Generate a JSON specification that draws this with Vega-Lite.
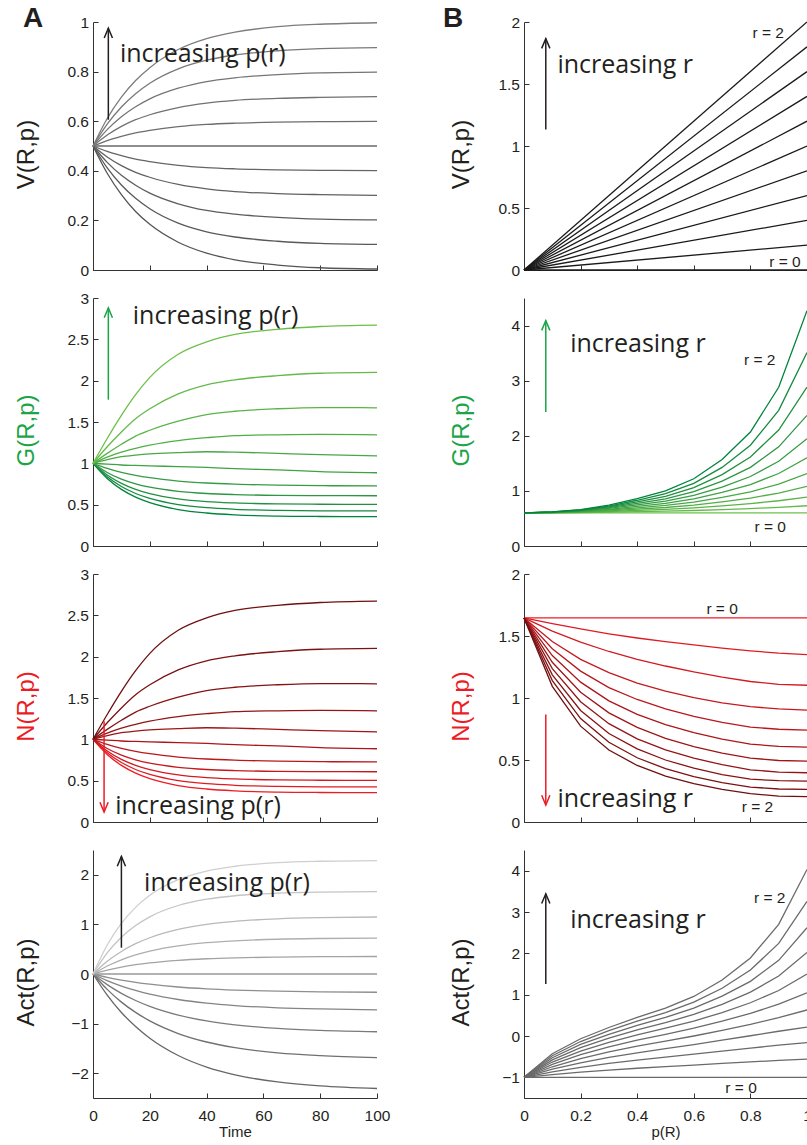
{
"$schema":"https://vega.github.io/schema/vega-lite/v6.json",
"autosize":{"type":"none"},
"padding":{"left":93,"top":22,"right":714,"bottom":1123},
"background":"white",
"datasets":{
"vl":[
{"k":0,"x":0,"y":0.5},{"k":0,"x":5,"y":0.39},{"k":0,"x":10,"y":0.304},{"k":0,"x":15,"y":0.236},{"k":0,"x":20,"y":0.184},{"k":0,"x":30,"y":0.112},{"k":0,"x":40,"y":0.068},{"k":0,"x":50,"y":0.041},{"k":0,"x":65,"y":0.02},{"k":0,"x":80,"y":0.009},{"k":0,"x":100,"y":0.004},
{"k":1,"x":0,"y":0.5},{"k":1,"x":5,"y":0.412},{"k":1,"x":10,"y":0.343},{"k":1,"x":15,"y":0.289},{"k":1,"x":20,"y":0.247},{"k":1,"x":30,"y":0.189},{"k":1,"x":40,"y":0.154},{"k":1,"x":50,"y":0.133},{"k":1,"x":65,"y":0.116},{"k":1,"x":80,"y":0.107},{"k":1,"x":100,"y":0.103},
{"k":2,"x":0,"y":0.5},{"k":2,"x":5,"y":0.434},{"k":2,"x":10,"y":0.382},{"k":2,"x":15,"y":0.342},{"k":2,"x":20,"y":0.31},{"k":2,"x":30,"y":0.267},{"k":2,"x":40,"y":0.24},{"k":2,"x":50,"y":0.225},{"k":2,"x":65,"y":0.212},{"k":2,"x":80,"y":0.205},{"k":2,"x":100,"y":0.202},
{"k":3,"x":0,"y":0.5},{"k":3,"x":5,"y":0.456},{"k":3,"x":10,"y":0.421},{"k":3,"x":15,"y":0.394},{"k":3,"x":20,"y":0.374},{"k":3,"x":30,"y":0.345},{"k":3,"x":40,"y":0.327},{"k":3,"x":50,"y":0.316},{"k":3,"x":65,"y":0.308},{"k":3,"x":80,"y":0.304},{"k":3,"x":100,"y":0.301},
{"k":4,"x":0,"y":0.5},{"k":4,"x":5,"y":0.478},{"k":4,"x":10,"y":0.461},{"k":4,"x":15,"y":0.447},{"k":4,"x":20,"y":0.437},{"k":4,"x":30,"y":0.422},{"k":4,"x":40,"y":0.413},{"k":4,"x":50,"y":0.408},{"k":4,"x":65,"y":0.404},{"k":4,"x":80,"y":0.402},{"k":4,"x":100,"y":0.401},
{"k":5,"x":0,"y":0.5},{"k":5,"x":100,"y":0.5},
{"k":6,"x":0,"y":0.5},{"k":6,"x":5,"y":0.522},{"k":6,"x":10,"y":0.539},{"k":6,"x":15,"y":0.553},{"k":6,"x":20,"y":0.563},{"k":6,"x":30,"y":0.578},{"k":6,"x":40,"y":0.587},{"k":6,"x":50,"y":0.592},{"k":6,"x":65,"y":0.596},{"k":6,"x":80,"y":0.598},{"k":6,"x":100,"y":0.599},
{"k":7,"x":0,"y":0.5},{"k":7,"x":5,"y":0.544},{"k":7,"x":10,"y":0.579},{"k":7,"x":15,"y":0.606},{"k":7,"x":20,"y":0.626},{"k":7,"x":30,"y":0.655},{"k":7,"x":40,"y":0.673},{"k":7,"x":50,"y":0.684},{"k":7,"x":65,"y":0.692},{"k":7,"x":80,"y":0.696},{"k":7,"x":100,"y":0.699},
{"k":8,"x":0,"y":0.5},{"k":8,"x":5,"y":0.566},{"k":8,"x":10,"y":0.618},{"k":8,"x":15,"y":0.658},{"k":8,"x":20,"y":0.69},{"k":8,"x":30,"y":0.733},{"k":8,"x":40,"y":0.76},{"k":8,"x":50,"y":0.775},{"k":8,"x":65,"y":0.788},{"k":8,"x":80,"y":0.795},{"k":8,"x":100,"y":0.798},
{"k":9,"x":0,"y":0.5},{"k":9,"x":5,"y":0.588},{"k":9,"x":10,"y":0.657},{"k":9,"x":15,"y":0.711},{"k":9,"x":20,"y":0.753},{"k":9,"x":30,"y":0.811},{"k":9,"x":40,"y":0.846},{"k":9,"x":50,"y":0.867},{"k":9,"x":65,"y":0.884},{"k":9,"x":80,"y":0.893},{"k":9,"x":100,"y":0.897},
{"k":10,"x":0,"y":0.5},{"k":10,"x":5,"y":0.611},{"k":10,"x":10,"y":0.697},{"k":10,"x":15,"y":0.764},{"k":10,"x":20,"y":0.816},{"k":10,"x":30,"y":0.889},{"k":10,"x":40,"y":0.933},{"k":10,"x":50,"y":0.959},{"k":10,"x":65,"y":0.981},{"k":10,"x":80,"y":0.991},{"k":10,"x":100,"y":0.997}
],
"gnl":[
{"k":0,"x":0,"y":1},{"k":0,"x":5,"y":0.817},{"k":0,"x":10,"y":0.685},{"k":0,"x":15,"y":0.592},{"k":0,"x":20,"y":0.525},{"k":0,"x":30,"y":0.441},{"k":0,"x":40,"y":0.399},{"k":0,"x":50,"y":0.377},{"k":0,"x":65,"y":0.362},{"k":0,"x":80,"y":0.357},{"k":0,"x":100,"y":0.355},
{"k":1,"x":0,"y":1},{"k":1,"x":5,"y":0.837},{"k":1,"x":10,"y":0.719},{"k":1,"x":15,"y":0.635},{"k":1,"x":20,"y":0.575},{"k":1,"x":30,"y":0.501},{"k":1,"x":40,"y":0.463},{"k":1,"x":50,"y":0.444},{"k":1,"x":65,"y":0.431},{"k":1,"x":80,"y":0.426},{"k":1,"x":100,"y":0.424},
{"k":2,"x":0,"y":1},{"k":2,"x":5,"y":0.859},{"k":2,"x":10,"y":0.758},{"k":2,"x":15,"y":0.686},{"k":2,"x":20,"y":0.634},{"k":2,"x":30,"y":0.57},{"k":2,"x":40,"y":0.537},{"k":2,"x":50,"y":0.521},{"k":2,"x":65,"y":0.509},{"k":2,"x":80,"y":0.505},{"k":2,"x":100,"y":0.503},
{"k":3,"x":0,"y":1},{"k":3,"x":5,"y":0.889},{"k":3,"x":10,"y":0.809},{"k":3,"x":15,"y":0.752},{"k":3,"x":20,"y":0.711},{"k":3,"x":30,"y":0.661},{"k":3,"x":40,"y":0.635},{"k":3,"x":50,"y":0.622},{"k":3,"x":65,"y":0.613},{"k":3,"x":80,"y":0.61},{"k":3,"x":100,"y":0.608},
{"k":4,"x":0,"y":1},{"k":4,"x":5,"y":0.939},{"k":4,"x":10,"y":0.892},{"k":4,"x":15,"y":0.855},{"k":4,"x":20,"y":0.826},{"k":4,"x":30,"y":0.786},{"k":4,"x":40,"y":0.762},{"k":4,"x":50,"y":0.748},{"k":4,"x":65,"y":0.736},{"k":4,"x":80,"y":0.73},{"k":4,"x":100,"y":0.727},
{"k":5,"x":0,"y":1},{"k":5,"x":5,"y":0.99},{"k":5,"x":10,"y":0.98},{"k":5,"x":15,"y":0.975},{"k":5,"x":20,"y":0.97},{"k":5,"x":30,"y":0.96},{"k":5,"x":40,"y":0.95},{"k":5,"x":50,"y":0.935},{"k":5,"x":65,"y":0.92},{"k":5,"x":80,"y":0.9},{"k":5,"x":100,"y":0.886},
{"k":6,"x":0,"y":1},{"k":6,"x":5,"y":1.045},{"k":6,"x":10,"y":1.08},{"k":6,"x":15,"y":1.1},{"k":6,"x":20,"y":1.115},{"k":6,"x":30,"y":1.13},{"k":6,"x":40,"y":1.14},{"k":6,"x":50,"y":1.135},{"k":6,"x":65,"y":1.12},{"k":6,"x":80,"y":1.105},{"k":6,"x":100,"y":1.09},
{"k":7,"x":0,"y":1},{"k":7,"x":5,"y":1.076},{"k":7,"x":10,"y":1.136},{"k":7,"x":15,"y":1.182},{"k":7,"x":20,"y":1.22},{"k":7,"x":30,"y":1.275},{"k":7,"x":40,"y":1.31},{"k":7,"x":50,"y":1.335},{"k":7,"x":65,"y":1.345},{"k":7,"x":80,"y":1.35},{"k":7,"x":100,"y":1.345},
{"k":8,"x":0,"y":1},{"k":8,"x":5,"y":1.12},{"k":8,"x":10,"y":1.23},{"k":8,"x":15,"y":1.33},{"k":8,"x":20,"y":1.4},{"k":8,"x":30,"y":1.51},{"k":8,"x":40,"y":1.59},{"k":8,"x":50,"y":1.63},{"k":8,"x":65,"y":1.66},{"k":8,"x":80,"y":1.675},{"k":8,"x":100,"y":1.671},
{"k":9,"x":0,"y":1},{"k":9,"x":5,"y":1.2},{"k":9,"x":10,"y":1.38},{"k":9,"x":15,"y":1.54},{"k":9,"x":20,"y":1.66},{"k":9,"x":30,"y":1.84},{"k":9,"x":40,"y":1.95},{"k":9,"x":50,"y":2.01},{"k":9,"x":65,"y":2.06},{"k":9,"x":80,"y":2.09},{"k":9,"x":100,"y":2.1},
{"k":10,"x":0,"y":1},{"k":10,"x":5,"y":1.3},{"k":10,"x":10,"y":1.58},{"k":10,"x":15,"y":1.83},{"k":10,"x":20,"y":2.04},{"k":10,"x":30,"y":2.32},{"k":10,"x":40,"y":2.47},{"k":10,"x":50,"y":2.56},{"k":10,"x":65,"y":2.62},{"k":10,"x":80,"y":2.655},{"k":10,"x":100,"y":2.672}
],
"al":[
{"k":0,"x":0,"y":0},{"k":0,"x":5,"y":-0.425},{"k":0,"x":10,"y":-0.775},{"k":0,"x":15,"y":-1.059},{"k":0,"x":20,"y":-1.295},{"k":0,"x":30,"y":-1.643},{"k":0,"x":40,"y":-1.876},{"k":0,"x":50,"y":-2.033},{"k":0,"x":65,"y":-2.176},{"k":0,"x":80,"y":-2.255},{"k":0,"x":100,"y":-2.308},
{"k":1,"x":0,"y":0},{"k":1,"x":5,"y":-0.31},{"k":1,"x":10,"y":-0.567},{"k":1,"x":15,"y":-0.774},{"k":1,"x":20,"y":-0.946},{"k":1,"x":30,"y":-1.2},{"k":1,"x":40,"y":-1.371},{"k":1,"x":50,"y":-1.485},{"k":1,"x":65,"y":-1.59},{"k":1,"x":80,"y":-1.647},{"k":1,"x":100,"y":-1.686},
{"k":2,"x":0,"y":0},{"k":2,"x":5,"y":-0.214},{"k":2,"x":10,"y":-0.391},{"k":2,"x":15,"y":-0.534},{"k":2,"x":20,"y":-0.653},{"k":2,"x":30,"y":-0.829},{"k":2,"x":40,"y":-0.946},{"k":2,"x":50,"y":-1.025},{"k":2,"x":65,"y":-1.098},{"k":2,"x":80,"y":-1.137},{"k":2,"x":100,"y":-1.164},
{"k":3,"x":0,"y":0},{"k":3,"x":5,"y":-0.133},{"k":3,"x":10,"y":-0.243},{"k":3,"x":15,"y":-0.331},{"k":3,"x":20,"y":-0.405},{"k":3,"x":30,"y":-0.514},{"k":3,"x":40,"y":-0.587},{"k":3,"x":50,"y":-0.636},{"k":3,"x":65,"y":-0.681},{"k":3,"x":80,"y":-0.705},{"k":3,"x":100,"y":-0.722},
{"k":4,"x":0,"y":0},{"k":4,"x":5,"y":-0.068},{"k":4,"x":10,"y":-0.124},{"k":4,"x":15,"y":-0.169},{"k":4,"x":20,"y":-0.206},{"k":4,"x":30,"y":-0.262},{"k":4,"x":40,"y":-0.299},{"k":4,"x":50,"y":-0.324},{"k":4,"x":65,"y":-0.347},{"k":4,"x":80,"y":-0.36},{"k":4,"x":100,"y":-0.368},
{"k":5,"x":0,"y":0},{"k":5,"x":100,"y":0},
{"k":6,"x":0,"y":0},{"k":6,"x":5,"y":0.078},{"k":6,"x":10,"y":0.14},{"k":6,"x":15,"y":0.187},{"k":6,"x":20,"y":0.224},{"k":6,"x":30,"y":0.276},{"k":6,"x":40,"y":0.307},{"k":6,"x":50,"y":0.326},{"k":6,"x":65,"y":0.341},{"k":6,"x":80,"y":0.349},{"k":6,"x":100,"y":0.353},
{"k":7,"x":0,"y":0},{"k":7,"x":5,"y":0.161},{"k":7,"x":10,"y":0.286},{"k":7,"x":15,"y":0.385},{"k":7,"x":20,"y":0.461},{"k":7,"x":30,"y":0.566},{"k":7,"x":40,"y":0.631},{"k":7,"x":50,"y":0.669},{"k":7,"x":65,"y":0.701},{"k":7,"x":80,"y":0.716},{"k":7,"x":100,"y":0.724},
{"k":8,"x":0,"y":0},{"k":8,"x":5,"y":0.256},{"k":8,"x":10,"y":0.455},{"k":8,"x":15,"y":0.611},{"k":8,"x":20,"y":0.731},{"k":8,"x":30,"y":0.899},{"k":8,"x":40,"y":1.001},{"k":8,"x":50,"y":1.062},{"k":8,"x":65,"y":1.112},{"k":8,"x":80,"y":1.136},{"k":8,"x":100,"y":1.149},
{"k":9,"x":0,"y":0},{"k":9,"x":5,"y":0.425},{"k":9,"x":10,"y":0.741},{"k":9,"x":15,"y":0.976},{"k":9,"x":20,"y":1.153},{"k":9,"x":30,"y":1.381},{"k":9,"x":40,"y":1.508},{"k":9,"x":50,"y":1.578},{"k":9,"x":65,"y":1.629},{"k":9,"x":80,"y":1.651},{"k":9,"x":100,"y":1.661},
{"k":10,"x":0,"y":0},{"k":10,"x":5,"y":0.585},{"k":10,"x":10,"y":1.021},{"k":10,"x":15,"y":1.344},{"k":10,"x":20,"y":1.587},{"k":10,"x":30,"y":1.902},{"k":10,"x":40,"y":2.076},{"k":10,"x":50,"y":2.172},{"k":10,"x":65,"y":2.244},{"k":10,"x":80,"y":2.273},{"k":10,"x":100,"y":2.287}
],
"vr":[
{"k":0,"x":0,"y":0},{"k":0,"x":1,"y":0},{"k":1,"x":0,"y":0},{"k":1,"x":1,"y":0.2},{"k":2,"x":0,"y":0},{"k":2,"x":1,"y":0.4},{"k":3,"x":0,"y":0},{"k":3,"x":1,"y":0.6},{"k":4,"x":0,"y":0},{"k":4,"x":1,"y":0.8},{"k":5,"x":0,"y":0},{"k":5,"x":1,"y":1.0},{"k":6,"x":0,"y":0},{"k":6,"x":1,"y":1.2},{"k":7,"x":0,"y":0},{"k":7,"x":1,"y":1.4},{"k":8,"x":0,"y":0},{"k":8,"x":1,"y":1.6},{"k":9,"x":0,"y":0},{"k":9,"x":1,"y":1.8},{"k":10,"x":0,"y":0},{"k":10,"x":1,"y":2.0}
],
"gr":[
{"k":0,"x":0,"y":0.6},{"k":0,"x":1,"y":0.6},
{"k":1,"x":0,"y":0.6},{"k":1,"x":0.1,"y":0.602},{"k":1,"x":0.2,"y":0.606},{"k":1,"x":0.3,"y":0.613},{"k":1,"x":0.4,"y":0.622},{"k":1,"x":0.5,"y":0.631},{"k":1,"x":0.6,"y":0.644},{"k":1,"x":0.7,"y":0.661},{"k":1,"x":0.8,"y":0.679},{"k":1,"x":0.9,"y":0.702},{"k":1,"x":1,"y":0.73},
{"k":2,"x":0,"y":0.6},{"k":2,"x":0.1,"y":0.604},{"k":2,"x":0.2,"y":0.612},{"k":2,"x":0.3,"y":0.626},{"k":2,"x":0.4,"y":0.645},{"k":2,"x":0.5,"y":0.664},{"k":2,"x":0.6,"y":0.692},{"k":2,"x":0.7,"y":0.727},{"k":2,"x":0.8,"y":0.769},{"k":2,"x":0.9,"y":0.821},{"k":2,"x":1,"y":0.888},
{"k":3,"x":0,"y":0.6},{"k":3,"x":0.1,"y":0.606},{"k":3,"x":0.2,"y":0.618},{"k":3,"x":0.3,"y":0.639},{"k":3,"x":0.4,"y":0.668},{"k":3,"x":0.5,"y":0.699},{"k":3,"x":0.6,"y":0.742},{"k":3,"x":0.7,"y":0.801},{"k":3,"x":0.8,"y":0.87},{"k":3,"x":0.9,"y":0.961},{"k":3,"x":1,"y":1.081},
{"k":4,"x":0,"y":0.6},{"k":4,"x":0.1,"y":0.608},{"k":4,"x":0.2,"y":0.624},{"k":4,"x":0.3,"y":0.653},{"k":4,"x":0.4,"y":0.693},{"k":4,"x":0.5,"y":0.736},{"k":4,"x":0.6,"y":0.797},{"k":4,"x":0.7,"y":0.882},{"k":4,"x":0.8,"y":0.984},{"k":4,"x":0.9,"y":1.124},{"k":4,"x":1,"y":1.315},
{"k":5,"x":0,"y":0.6},{"k":5,"x":0.1,"y":0.61},{"k":5,"x":0.2,"y":0.63},{"k":5,"x":0.3,"y":0.666},{"k":5,"x":0.4,"y":0.718},{"k":5,"x":0.5,"y":0.774},{"k":5,"x":0.6,"y":0.856},{"k":5,"x":0.7,"y":0.971},{"k":5,"x":0.8,"y":1.114},{"k":5,"x":0.9,"y":1.315},{"k":5,"x":1,"y":1.601},
{"k":6,"x":0,"y":0.6},{"k":6,"x":0.1,"y":0.612},{"k":6,"x":0.2,"y":0.636},{"k":6,"x":0.3,"y":0.681},{"k":6,"x":0.4,"y":0.745},{"k":6,"x":0.5,"y":0.815},{"k":6,"x":0.6,"y":0.919},{"k":6,"x":0.7,"y":1.069},{"k":6,"x":0.8,"y":1.261},{"k":6,"x":0.9,"y":1.538},{"k":6,"x":1,"y":1.947},
{"k":7,"x":0,"y":0.6},{"k":7,"x":0.1,"y":0.613},{"k":7,"x":0.2,"y":0.642},{"k":7,"x":0.3,"y":0.695},{"k":7,"x":0.4,"y":0.772},{"k":7,"x":0.5,"y":0.857},{"k":7,"x":0.6,"y":0.986},{"k":7,"x":0.7,"y":1.177},{"k":7,"x":0.8,"y":1.427},{"k":7,"x":0.9,"y":1.799},{"k":7,"x":1,"y":2.37},
{"k":8,"x":0,"y":0.6},{"k":8,"x":0.1,"y":0.615},{"k":8,"x":0.2,"y":0.648},{"k":8,"x":0.3,"y":0.71},{"k":8,"x":0.4,"y":0.8},{"k":8,"x":0.5,"y":0.902},{"k":8,"x":0.6,"y":1.059},{"k":8,"x":0.7,"y":1.296},{"k":8,"x":0.8,"y":1.615},{"k":8,"x":0.9,"y":2.105},{"k":8,"x":1,"y":2.883},
{"k":9,"x":0,"y":0.6},{"k":9,"x":0.1,"y":0.617},{"k":9,"x":0.2,"y":0.654},{"k":9,"x":0.3,"y":0.725},{"k":9,"x":0.4,"y":0.83},{"k":9,"x":0.5,"y":0.95},{"k":9,"x":0.6,"y":1.137},{"k":9,"x":0.7,"y":1.426},{"k":9,"x":0.8,"y":1.828},{"k":9,"x":0.9,"y":2.462},{"k":9,"x":1,"y":3.509},
{"k":10,"x":0,"y":0.6},{"k":10,"x":0.1,"y":0.619},{"k":10,"x":0.2,"y":0.66},{"k":10,"x":0.3,"y":0.74},{"k":10,"x":0.4,"y":0.86},{"k":10,"x":0.5,"y":0.999},{"k":10,"x":0.6,"y":1.22},{"k":10,"x":0.7,"y":1.57},{"k":10,"x":0.8,"y":2.069},{"k":10,"x":0.9,"y":2.88},{"k":10,"x":1,"y":4.269}
],
"nr":[
{"k":0,"x":0,"y":1.646},{"k":0,"x":1,"y":1.646},
{"k":1,"x":0,"y":1.646},{"k":1,"x":0.1,"y":1.6},{"k":1,"x":0.2,"y":1.557},{"k":1,"x":0.3,"y":1.518},{"k":1,"x":0.4,"y":1.484},{"k":1,"x":0.5,"y":1.455},{"k":1,"x":0.6,"y":1.428},{"k":1,"x":0.7,"y":1.402},{"k":1,"x":0.8,"y":1.38},{"k":1,"x":0.9,"y":1.362},{"k":1,"x":1,"y":1.35},
{"k":2,"x":0,"y":1.646},{"k":2,"x":0.1,"y":1.54},{"k":2,"x":0.2,"y":1.45},{"k":2,"x":0.3,"y":1.375},{"k":2,"x":0.4,"y":1.312},{"k":2,"x":0.5,"y":1.258},{"k":2,"x":0.6,"y":1.21},{"k":2,"x":0.7,"y":1.168},{"k":2,"x":0.8,"y":1.133},{"k":2,"x":0.9,"y":1.11},{"k":2,"x":1,"y":1.103},
{"k":3,"x":0,"y":1.646},{"k":3,"x":0.1,"y":1.456},{"k":3,"x":0.2,"y":1.312},{"k":3,"x":0.3,"y":1.204},{"k":3,"x":0.4,"y":1.12},{"k":3,"x":0.5,"y":1.055},{"k":3,"x":0.6,"y":1.003},{"k":3,"x":0.7,"y":0.96},{"k":3,"x":0.8,"y":0.93},{"k":3,"x":0.9,"y":0.912},{"k":3,"x":1,"y":0.902},
{"k":4,"x":0,"y":1.646},{"k":4,"x":0.1,"y":1.398},{"k":4,"x":0.2,"y":1.217},{"k":4,"x":0.3,"y":1.084},{"k":4,"x":0.4,"y":0.988},{"k":4,"x":0.5,"y":0.912},{"k":4,"x":0.6,"y":0.852},{"k":4,"x":0.7,"y":0.803},{"k":4,"x":0.8,"y":0.765},{"k":4,"x":0.9,"y":0.748},{"k":4,"x":1,"y":0.741},
{"k":5,"x":0,"y":1.646},{"k":5,"x":0.1,"y":1.342},{"k":5,"x":0.2,"y":1.128},{"k":5,"x":0.3,"y":0.977},{"k":5,"x":0.4,"y":0.868},{"k":5,"x":0.5,"y":0.785},{"k":5,"x":0.6,"y":0.72},{"k":5,"x":0.7,"y":0.668},{"k":5,"x":0.8,"y":0.628},{"k":5,"x":0.9,"y":0.61},{"k":5,"x":1,"y":0.604},
{"k":6,"x":0,"y":1.646},{"k":6,"x":0.1,"y":1.288},{"k":6,"x":0.2,"y":1.046},{"k":6,"x":0.3,"y":0.88},{"k":6,"x":0.4,"y":0.763},{"k":6,"x":0.5,"y":0.675},{"k":6,"x":0.6,"y":0.608},{"k":6,"x":0.7,"y":0.556},{"k":6,"x":0.8,"y":0.515},{"k":6,"x":0.9,"y":0.496},{"k":6,"x":1,"y":0.491},
{"k":7,"x":0,"y":1.646},{"k":7,"x":0.1,"y":1.237},{"k":7,"x":0.2,"y":0.97},{"k":7,"x":0.3,"y":0.793},{"k":7,"x":0.4,"y":0.671},{"k":7,"x":0.5,"y":0.581},{"k":7,"x":0.6,"y":0.515},{"k":7,"x":0.7,"y":0.462},{"k":7,"x":0.8,"y":0.421},{"k":7,"x":0.9,"y":0.402},{"k":7,"x":1,"y":0.397},
{"k":8,"x":0,"y":1.646},{"k":8,"x":0.1,"y":1.187},{"k":8,"x":0.2,"y":0.899},{"k":8,"x":0.3,"y":0.714},{"k":8,"x":0.4,"y":0.59},{"k":8,"x":0.5,"y":0.5},{"k":8,"x":0.6,"y":0.434},{"k":8,"x":0.7,"y":0.382},{"k":8,"x":0.8,"y":0.345},{"k":8,"x":0.9,"y":0.333},{"k":8,"x":1,"y":0.33},
{"k":9,"x":0,"y":1.646},{"k":9,"x":0.1,"y":1.14},{"k":9,"x":0.2,"y":0.834},{"k":9,"x":0.3,"y":0.643},{"k":9,"x":0.4,"y":0.518},{"k":9,"x":0.5,"y":0.43},{"k":9,"x":0.6,"y":0.366},{"k":9,"x":0.7,"y":0.318},{"k":9,"x":0.8,"y":0.282},{"k":9,"x":0.9,"y":0.266},{"k":9,"x":1,"y":0.263},
{"k":10,"x":0,"y":1.646},{"k":10,"x":0.1,"y":1.094},{"k":10,"x":0.2,"y":0.773},{"k":10,"x":0.3,"y":0.58},{"k":10,"x":0.4,"y":0.456},{"k":10,"x":0.5,"y":0.37},{"k":10,"x":0.6,"y":0.309},{"k":10,"x":0.7,"y":0.263},{"k":10,"x":0.8,"y":0.228},{"k":10,"x":0.9,"y":0.209},{"k":10,"x":1,"y":0.204}
],
"ar":[
{"k":0,"x":0,"y":-1},{"k":0,"x":1,"y":-1},
{"k":1,"x":0,"y":-1},{"k":1,"x":0.1,"y":-0.932},{"k":1,"x":0.2,"y":-0.874},{"k":1,"x":0.3,"y":-0.824},{"k":1,"x":0.4,"y":-0.78},{"k":1,"x":0.5,"y":-0.741},{"k":1,"x":0.6,"y":-0.703},{"k":1,"x":0.7,"y":-0.663},{"k":1,"x":0.8,"y":-0.626},{"k":1,"x":0.9,"y":-0.591},{"k":1,"x":1,"y":-0.56},
{"k":2,"x":0,"y":-1},{"k":2,"x":0.1,"y":-0.867},{"k":2,"x":0.2,"y":-0.757},{"k":2,"x":0.3,"y":-0.664},{"k":2,"x":0.4,"y":-0.582},{"k":2,"x":0.5,"y":-0.511},{"k":2,"x":0.6,"y":-0.44},{"k":2,"x":0.7,"y":-0.368},{"k":2,"x":0.8,"y":-0.294},{"k":2,"x":0.9,"y":-0.222},{"k":2,"x":1,"y":-0.16},
{"k":3,"x":0,"y":-1},{"k":3,"x":0.1,"y":-0.804},{"k":3,"x":0.2,"y":-0.648},{"k":3,"x":0.3,"y":-0.519},{"k":3,"x":0.4,"y":-0.406},{"k":3,"x":0.5,"y":-0.307},{"k":3,"x":0.6,"y":-0.209},{"k":3,"x":0.7,"y":-0.102},{"k":3,"x":0.8,"y":0.006},{"k":3,"x":0.9,"y":0.115},{"k":3,"x":1,"y":0.215},
{"k":4,"x":0,"y":-1},{"k":4,"x":0.1,"y":-0.744},{"k":4,"x":0.2,"y":-0.547},{"k":4,"x":0.3,"y":-0.385},{"k":4,"x":0.4,"y":-0.246},{"k":4,"x":0.5,"y":-0.124},{"k":4,"x":0.6,"y":0.0},{"k":4,"x":0.7,"y":0.138},{"k":4,"x":0.8,"y":0.283},{"k":4,"x":0.9,"y":0.445},{"k":4,"x":1,"y":0.63},
{"k":5,"x":0,"y":-1},{"k":5,"x":0.1,"y":-0.686},{"k":5,"x":0.2,"y":-0.452},{"k":5,"x":0.3,"y":-0.265},{"k":5,"x":0.4,"y":-0.102},{"k":5,"x":0.5,"y":0.039},{"k":5,"x":0.6,"y":0.189},{"k":5,"x":0.7,"y":0.359},{"k":5,"x":0.8,"y":0.547},{"k":5,"x":0.9,"y":0.77},{"k":5,"x":1,"y":1.045},
{"k":6,"x":0,"y":-1},{"k":6,"x":0.1,"y":-0.63},{"k":6,"x":0.2,"y":-0.364},{"k":6,"x":0.3,"y":-0.153},{"k":6,"x":0.4,"y":0.029},{"k":6,"x":0.5,"y":0.189},{"k":6,"x":0.6,"y":0.362},{"k":6,"x":0.7,"y":0.567},{"k":6,"x":0.8,"y":0.804},{"k":6,"x":0.9,"y":1.1},{"k":6,"x":1,"y":1.5},
{"k":7,"x":0,"y":-1},{"k":7,"x":0.1,"y":-0.578},{"k":7,"x":0.2,"y":-0.282},{"k":7,"x":0.3,"y":-0.052},{"k":7,"x":0.4,"y":0.148},{"k":7,"x":0.5,"y":0.324},{"k":7,"x":0.6,"y":0.521},{"k":7,"x":0.7,"y":0.767},{"k":7,"x":0.8,"y":1.06},{"k":7,"x":0.9,"y":1.45},{"k":7,"x":1,"y":2.02},
{"k":8,"x":0,"y":-1},{"k":8,"x":0.1,"y":-0.526},{"k":8,"x":0.2,"y":-0.205},{"k":8,"x":0.3,"y":0.042},{"k":8,"x":0.4,"y":0.257},{"k":8,"x":0.5,"y":0.449},{"k":8,"x":0.6,"y":0.673},{"k":8,"x":0.7,"y":0.963},{"k":8,"x":0.8,"y":1.322},{"k":8,"x":0.9,"y":1.83},{"k":8,"x":1,"y":2.62},
{"k":9,"x":0,"y":-1},{"k":9,"x":0.1,"y":-0.477},{"k":9,"x":0.2,"y":-0.134},{"k":9,"x":0.3,"y":0.128},{"k":9,"x":0.4,"y":0.358},{"k":9,"x":0.5,"y":0.566},{"k":9,"x":0.6,"y":0.818},{"k":9,"x":0.7,"y":1.156},{"k":9,"x":0.8,"y":1.596},{"k":9,"x":0.9,"y":2.24},{"k":9,"x":1,"y":3.26},
{"k":10,"x":0,"y":-1},{"k":10,"x":0.1,"y":-0.429},{"k":10,"x":0.2,"y":-0.067},{"k":10,"x":0.3,"y":0.206},{"k":10,"x":0.4,"y":0.45},{"k":10,"x":0.5,"y":0.675},{"k":10,"x":0.6,"y":0.957},{"k":10,"x":0.7,"y":1.353},{"k":10,"x":0.8,"y":1.887},{"k":10,"x":0.9,"y":2.7},{"k":10,"x":1,"y":4.03}
],
"arrows":[
{"panel":"VL","x":5.4,"y":0.606,"y2":0.975},
{"panel":"VR","x":0.077,"y":1.134,"y2":1.866},
{"panel":"GL","x":5.4,"y":1.77,"y2":2.88},
{"panel":"GR","x":0.077,"y":2.43,"y2":4.09},
{"panel":"NL","x":3.9,"y":1.22,"y2":0.12},
{"panel":"NR","x":0.077,"y":0.867,"y2":0.137},
{"panel":"AL","x":10,"y":0.53,"y2":2.37},
{"panel":"AR","x":0.077,"y":1.26,"y2":3.44}
],
"heads":[
{"panel":"VL","x":5.4,"y":0.975},
{"panel":"VR","x":0.077,"y":1.866},
{"panel":"GL","x":5.4,"y":2.88},
{"panel":"GR","x":0.077,"y":4.09},
{"panel":"NL","x":3.9,"y":0.12},
{"panel":"NR","x":0.077,"y":0.137},
{"panel":"AL","x":10,"y":2.37},
{"panel":"AR","x":0.077,"y":3.44}
],
"big":[
{"panel":"VL","x":9.5,"y":0.839,"text":"increasing p(r)"},
{"panel":"VR","x":0.118,"y":1.59,"text":"increasing r"},
{"panel":"GL","x":14,"y":2.686,"text":"increasing p(r)"},
{"panel":"GR","x":0.163,"y":3.52,"text":"increasing r"},
{"panel":"NL","x":7.8,"y":0.1,"text":"increasing p(r)"},
{"panel":"NR","x":0.118,"y":0.12,"text":"increasing r"},
{"panel":"AL","x":18,"y":1.67,"text":"increasing p(r)"},
{"panel":"AR","x":0.163,"y":2.62,"text":"increasing r"}
],
"small":[
{"panel":"VR","x":0.863,"y":1.912,"text":"r = 2"},
{"panel":"VR","x":0.922,"y":0.067,"text":"r = 0"},
{"panel":"GR","x":0.833,"y":3.37,"text":"r = 2"},
{"panel":"GR","x":0.87,"y":0.35,"text":"r = 0"},
{"panel":"NR","x":0.7,"y":1.72,"text":"r = 0"},
{"panel":"NR","x":0.825,"y":0.12,"text":"r = 2"},
{"panel":"AR","x":0.868,"y":3.34,"text":"r = 2"},
{"panel":"AR","x":0.767,"y":-1.26,"text":"r = 0"}
]
},
"columns":2,
"bounds":"flush",
"spacing":{"row":28,"column":147},
"resolve":{"scale":{"color":"independent"}},
"concat":[
{"width":284,"height":248,
 "title":{"text":"A","anchor":"start","frame":"group","offset":0,"dx":-70,"dy":40,"baseline":"alphabetic","fontSize":28,"fontWeight":"bold","font":"Liberation Sans","color":"#231f20"},
 "encoding":{
  "x":{"field":"x","type":"quantitative","scale":{"domain":[0,100],"nice":false,"zero":false},"axis":{"values":[0,20,40,60,80,100],"labels":false,"title":null}},
  "y":{"field":"y","type":"quantitative","scale":{"domain":[0,1],"nice":false,"zero":false},"axis":{"values":[0,0.2,0.4,0.6,0.8,1],"title":"V(R,p)","titleX":-55}}},
 "layer":[
  {"data":{"name":"vl"},"mark":{"type":"line","interpolate":"monotone","strokeWidth":1.3},"encoding":{"detail":{"field":"k","type":"nominal"},"color":{"field":"k","type":"quantitative","scale":{"domain":[0,10],"range":["#555555","#7d7d7d"]},"legend":null}}},
  {"data":{"name":"arrows"},"transform":[{"filter":"datum.panel==='VL'"}],"mark":{"type":"rule","color":"#231f20","strokeWidth":1.5},"encoding":{"y2":{"field":"y2"}}},
  {"data":{"name":"heads"},"transform":[{"filter":"datum.panel==='VL'"}],"mark":{"type":"point","shape":"M-0.55,1.3L0,0L0.55,1.3","size":225,"filled":false,"color":"#231f20","strokeWidth":1.5,"opacity":1}},
  {"data":{"name":"big"},"transform":[{"filter":"datum.panel==='VL'"}],"mark":{"type":"text","align":"left","baseline":"alphabetic","font":"Open Sans","fontSize":25,"color":"#231f20"},"encoding":{"text":{"field":"text"}}}
 ]},
{"width":283,"height":248,
 "title":{"text":"B","anchor":"start","frame":"group","offset":0,"dx":-81,"dy":40,"baseline":"alphabetic","fontSize":28,"fontWeight":"bold","font":"Liberation Sans","color":"#231f20"},
 "encoding":{
  "x":{"field":"x","type":"quantitative","scale":{"domain":[0,1],"nice":false,"zero":false},"axis":{"values":[0,0.2,0.4,0.6,0.8,1],"labels":false,"title":null}},
  "y":{"field":"y","type":"quantitative","scale":{"domain":[0,2],"nice":false,"zero":false},"axis":{"values":[0,0.5,1,1.5,2],"title":"V(R,p)","titleX":-51}}},
 "layer":[
  {"data":{"name":"vr"},"mark":{"type":"line","strokeWidth":1.3,"color":"#1a1a1a"},"encoding":{"detail":{"field":"k","type":"nominal"}}},
  {"data":{"name":"arrows"},"transform":[{"filter":"datum.panel==='VR'"}],"mark":{"type":"rule","color":"#231f20","strokeWidth":1.5},"encoding":{"y2":{"field":"y2"}}},
  {"data":{"name":"heads"},"transform":[{"filter":"datum.panel==='VR'"}],"mark":{"type":"point","shape":"M-0.55,1.3L0,0L0.55,1.3","size":225,"filled":false,"color":"#231f20","strokeWidth":1.5,"opacity":1}},
  {"data":{"name":"big"},"transform":[{"filter":"datum.panel==='VR'"}],"mark":{"type":"text","align":"left","baseline":"alphabetic","font":"Open Sans","fontSize":25,"color":"#231f20"},"encoding":{"text":{"field":"text"}}},
  {"data":{"name":"small"},"transform":[{"filter":"datum.panel==='VR'"}],"mark":{"type":"text","align":"center","baseline":"middle","font":"Liberation Sans","fontSize":15.5,"color":"#231f20"},"encoding":{"text":{"field":"text"}}}
 ]},
{"width":284,"height":248,
 "encoding":{
  "x":{"field":"x","type":"quantitative","scale":{"domain":[0,100],"nice":false,"zero":false},"axis":{"values":[0,20,40,60,80,100],"labels":false,"title":null}},
  "y":{"field":"y","type":"quantitative","scale":{"domain":[0,3],"nice":false,"zero":false},"axis":{"values":[0,0.5,1,1.5,2,2.5,3],"title":"G(R,p)","titleX":-55,"titleColor":"#1ba548"}}},
 "layer":[
  {"data":{"name":"gnl"},"mark":{"type":"line","interpolate":"monotone","strokeWidth":1.3},"encoding":{"detail":{"field":"k","type":"nominal"},"color":{"field":"k","type":"quantitative","scale":{"domain":[0,10],"range":["#00843d","#6cc04a"]},"legend":null}}},
  {"data":{"name":"arrows"},"transform":[{"filter":"datum.panel==='GL'"}],"mark":{"type":"rule","color":"#1ba548","strokeWidth":1.5},"encoding":{"y2":{"field":"y2"}}},
  {"data":{"name":"heads"},"transform":[{"filter":"datum.panel==='GL'"}],"mark":{"type":"point","shape":"M-0.55,1.3L0,0L0.55,1.3","size":225,"filled":false,"color":"#1ba548","strokeWidth":1.5,"opacity":1}},
  {"data":{"name":"big"},"transform":[{"filter":"datum.panel==='GL'"}],"mark":{"type":"text","align":"left","baseline":"alphabetic","font":"Open Sans","fontSize":25,"color":"#231f20"},"encoding":{"text":{"field":"text"}}}
 ]},
{"width":283,"height":248,
 "encoding":{
  "x":{"field":"x","type":"quantitative","scale":{"domain":[0,1],"nice":false,"zero":false},"axis":{"values":[0,0.2,0.4,0.6,0.8,1],"labels":false,"title":null}},
  "y":{"field":"y","type":"quantitative","scale":{"domain":[0,4.5],"nice":false,"zero":false},"axis":{"values":[0,1,2,3,4],"title":"G(R,p)","titleX":-51,"titleColor":"#1ba548"}}},
 "layer":[
  {"data":{"name":"gr"},"mark":{"type":"line","strokeWidth":1.3},"encoding":{"detail":{"field":"k","type":"nominal"},"color":{"field":"k","type":"quantitative","scale":{"domain":[0,10],"range":["#6cc04a","#00843d"]},"legend":null}}},
  {"data":{"name":"arrows"},"transform":[{"filter":"datum.panel==='GR'"}],"mark":{"type":"rule","color":"#1ba548","strokeWidth":1.5},"encoding":{"y2":{"field":"y2"}}},
  {"data":{"name":"heads"},"transform":[{"filter":"datum.panel==='GR'"}],"mark":{"type":"point","shape":"M-0.55,1.3L0,0L0.55,1.3","size":225,"filled":false,"color":"#1ba548","strokeWidth":1.5,"opacity":1}},
  {"data":{"name":"big"},"transform":[{"filter":"datum.panel==='GR'"}],"mark":{"type":"text","align":"left","baseline":"alphabetic","font":"Open Sans","fontSize":25,"color":"#231f20"},"encoding":{"text":{"field":"text"}}},
  {"data":{"name":"small"},"transform":[{"filter":"datum.panel==='GR'"}],"mark":{"type":"text","align":"center","baseline":"middle","font":"Liberation Sans","fontSize":15.5,"color":"#231f20"},"encoding":{"text":{"field":"text"}}}
 ]},
{"width":284,"height":248,
 "encoding":{
  "x":{"field":"x","type":"quantitative","scale":{"domain":[0,100],"nice":false,"zero":false},"axis":{"values":[0,20,40,60,80,100],"labels":false,"title":null}},
  "y":{"field":"y","type":"quantitative","scale":{"domain":[0,3],"nice":false,"zero":false},"axis":{"values":[0,0.5,1,1.5,2,2.5,3],"title":"N(R,p)","titleX":-55,"titleColor":"#ed1c24"}}},
 "layer":[
  {"data":{"name":"gnl"},"mark":{"type":"line","interpolate":"monotone","strokeWidth":1.3},"encoding":{"detail":{"field":"k","type":"nominal"},"color":{"field":"k","type":"quantitative","scale":{"domain":[0,10],"range":["#ec1c24","#6e1010"]},"legend":null}}},
  {"data":{"name":"arrows"},"transform":[{"filter":"datum.panel==='NL'"}],"mark":{"type":"rule","color":"#ed1c24","strokeWidth":1.5},"encoding":{"y2":{"field":"y2"}}},
  {"data":{"name":"heads"},"transform":[{"filter":"datum.panel==='NL'"}],"mark":{"type":"point","shape":"M-0.55,-1.3L0,0L0.55,-1.3","size":225,"filled":false,"color":"#ed1c24","strokeWidth":1.5,"opacity":1}},
  {"data":{"name":"big"},"transform":[{"filter":"datum.panel==='NL'"}],"mark":{"type":"text","align":"left","baseline":"alphabetic","font":"Open Sans","fontSize":25,"color":"#231f20"},"encoding":{"text":{"field":"text"}}}
 ]},
{"width":283,"height":248,
 "encoding":{
  "x":{"field":"x","type":"quantitative","scale":{"domain":[0,1],"nice":false,"zero":false},"axis":{"values":[0,0.2,0.4,0.6,0.8,1],"labels":false,"title":null}},
  "y":{"field":"y","type":"quantitative","scale":{"domain":[0,2],"nice":false,"zero":false},"axis":{"values":[0,0.5,1,1.5,2],"title":"N(R,p)","titleX":-51,"titleColor":"#ed1c24"}}},
 "layer":[
  {"data":{"name":"nr"},"mark":{"type":"line","strokeWidth":1.3},"encoding":{"detail":{"field":"k","type":"nominal"},"color":{"field":"k","type":"quantitative","scale":{"domain":[0,10],"range":["#ec1c24","#6e1010"]},"legend":null}}},
  {"data":{"name":"arrows"},"transform":[{"filter":"datum.panel==='NR'"}],"mark":{"type":"rule","color":"#ed1c24","strokeWidth":1.5},"encoding":{"y2":{"field":"y2"}}},
  {"data":{"name":"heads"},"transform":[{"filter":"datum.panel==='NR'"}],"mark":{"type":"point","shape":"M-0.55,-1.3L0,0L0.55,-1.3","size":225,"filled":false,"color":"#ed1c24","strokeWidth":1.5,"opacity":1}},
  {"data":{"name":"big"},"transform":[{"filter":"datum.panel==='NR'"}],"mark":{"type":"text","align":"left","baseline":"alphabetic","font":"Open Sans","fontSize":25,"color":"#231f20"},"encoding":{"text":{"field":"text"}}},
  {"data":{"name":"small"},"transform":[{"filter":"datum.panel==='NR'"}],"mark":{"type":"text","align":"center","baseline":"middle","font":"Liberation Sans","fontSize":15.5,"color":"#231f20"},"encoding":{"text":{"field":"text"}}}
 ]},
{"width":284,"height":248,
 "encoding":{
  "x":{"field":"x","type":"quantitative","scale":{"domain":[0,100],"nice":false,"zero":false},"axis":{"values":[0,20,40,60,80,100],"title":"Time"}},
  "y":{"field":"y","type":"quantitative","scale":{"domain":[-2.5,2.5],"nice":false,"zero":false},"axis":{"values":[-2,-1,0,1,2],"title":"Act(R,p)","titleX":-55}}},
 "layer":[
  {"data":{"name":"al"},"mark":{"type":"line","interpolate":"monotone","strokeWidth":1.3},"encoding":{"detail":{"field":"k","type":"nominal"},"color":{"field":"k","type":"quantitative","scale":{"domain":[0,10],"range":["#666666","#cfcfcf"]},"legend":null}}},
  {"data":{"name":"arrows"},"transform":[{"filter":"datum.panel==='AL'"}],"mark":{"type":"rule","color":"#231f20","strokeWidth":1.5},"encoding":{"y2":{"field":"y2"}}},
  {"data":{"name":"heads"},"transform":[{"filter":"datum.panel==='AL'"}],"mark":{"type":"point","shape":"M-0.55,1.3L0,0L0.55,1.3","size":225,"filled":false,"color":"#231f20","strokeWidth":1.5,"opacity":1}},
  {"data":{"name":"big"},"transform":[{"filter":"datum.panel==='AL'"}],"mark":{"type":"text","align":"left","baseline":"alphabetic","font":"Open Sans","fontSize":25,"color":"#231f20"},"encoding":{"text":{"field":"text"}}}
 ]},
{"width":283,"height":248,
 "encoding":{
  "x":{"field":"x","type":"quantitative","scale":{"domain":[0,1],"nice":false,"zero":false},"axis":{"values":[0,0.2,0.4,0.6,0.8,1],"title":"p(R)"}},
  "y":{"field":"y","type":"quantitative","scale":{"domain":[-1.5,4.5],"nice":false,"zero":false},"axis":{"values":[-1,0,1,2,3,4],"title":"Act(R,p)","titleX":-51}}},
 "layer":[
  {"data":{"name":"ar"},"mark":{"type":"line","strokeWidth":1.3,"color":"#6a6a6a"},"encoding":{"detail":{"field":"k","type":"nominal"}}},
  {"data":{"name":"arrows"},"transform":[{"filter":"datum.panel==='AR'"}],"mark":{"type":"rule","color":"#231f20","strokeWidth":1.5},"encoding":{"y2":{"field":"y2"}}},
  {"data":{"name":"heads"},"transform":[{"filter":"datum.panel==='AR'"}],"mark":{"type":"point","shape":"M-0.55,1.3L0,0L0.55,1.3","size":225,"filled":false,"color":"#231f20","strokeWidth":1.5,"opacity":1}},
  {"data":{"name":"big"},"transform":[{"filter":"datum.panel==='AR'"}],"mark":{"type":"text","align":"left","baseline":"alphabetic","font":"Open Sans","fontSize":25,"color":"#231f20"},"encoding":{"text":{"field":"text"}}},
  {"data":{"name":"small"},"transform":[{"filter":"datum.panel==='AR'"}],"mark":{"type":"text","align":"center","baseline":"middle","font":"Liberation Sans","fontSize":15.5,"color":"#231f20"},"encoding":{"text":{"field":"text"}}}
 ]}
],
"config":{
 "font":"Liberation Sans",
 "view":{"stroke":null},
 "axis":{"grid":false,"domainColor":"#333333","domainWidth":1,"tickColor":"#333333","tickSize":-5,"tickWidth":1,"labelFont":"Liberation Sans","labelFontSize":15.5,"labelColor":"#231f20","labelFlush":false,"labelOverlap":false,"format":"~f","titleFont":"Liberation Sans","titleFontWeight":"normal","titleColor":"#231f20"},
 "axisY":{"labelPadding":9.5,"titleFontSize":24,"titleY":132,"titleAngle":-90,"titleAlign":"center","titleBaseline":"bottom"},
 "axisX":{"labelPadding":15,"titleFontSize":15,"titleY":38,"titleBaseline":"alphabetic"}
}
}
